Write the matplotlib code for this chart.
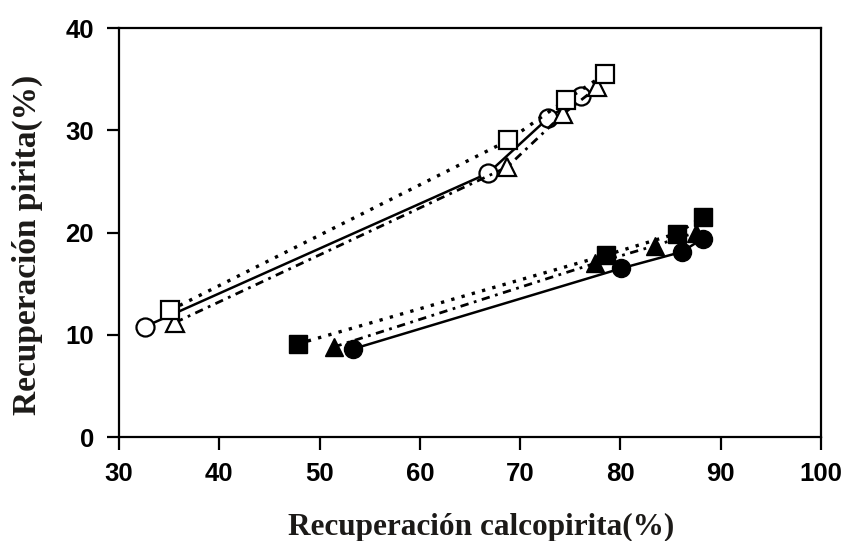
import numpy as np
import matplotlib.pyplot as plt

# Recuperación calcopirita (x) vs pirita (y)
# open symbols
x_circ_open = [32.6, 66.8, 72.8, 76.1]
y_circ_open = [10.8, 25.8, 31.2, 33.4]
x_sq_open = [35.1, 68.8, 74.6, 78.5]
y_sq_open = [12.4, 29.0, 33.0, 35.5]
x_tri_open = [35.6, 68.7, 74.3, 77.7]
y_tri_open = [11.2, 26.4, 31.6, 34.2]

# filled symbols
x_sq_fill = [47.8, 78.6, 85.6, 88.2]
y_sq_fill = [9.1, 17.8, 19.9, 21.5]
x_tri_fill = [51.4, 77.5, 83.4, 87.5]
y_tri_fill = [8.8, 17.0, 18.7, 20.0]
x_circ_fill = [53.3, 80.1, 86.1, 88.2]
y_circ_fill = [8.6, 16.5, 18.1, 19.4]

fig = plt.figure(figsize=(8.47, 5.41), dpi=100)
ax = fig.add_axes([0.1405, 0.1922, 0.8288, 0.756])

ms = 13
mew = 1.6
dot = (0, (1, 2.2))
dashdot = (0, (3, 2, 1, 2))

# open series
ax.plot(x_circ_open, y_circ_open, color="black", ls="-", lw=1.8,
        marker="o", ms=ms, mfc="white", mec="black", mew=mew, zorder=3)
ax.plot(x_tri_open, y_tri_open, color="black", ls=dashdot, lw=2.0,
        marker="^", ms=ms, mfc="white", mec="black", mew=mew, zorder=3)
ax.plot(x_sq_open, y_sq_open, color="black", ls=dot, lw=2.4,
        marker="s", ms=ms, mfc="white", mec="black", mew=mew, zorder=3)

# filled series
ax.plot(x_sq_fill, y_sq_fill, color="black", ls=dot, lw=2.4,
        marker="s", ms=ms, mfc="black", mec="black", zorder=3)
ax.plot(x_tri_fill, y_tri_fill, color="black", ls=dashdot, lw=2.0,
        marker="^", ms=ms, mfc="black", mec="black", zorder=3)
ax.plot(x_circ_fill, y_circ_fill, color="black", ls="-", lw=1.8,
        marker="o", ms=ms, mfc="black", mec="black", zorder=3)

ax.set_xlim(30, 100)
ax.set_ylim(0, 40)
ax.set_xticks(np.arange(30, 101, 10))
ax.set_yticks(np.arange(0, 41, 10))

for s in ax.spines.values():
    s.set_linewidth(1.6)

ax.tick_params(direction="out", length=9, width=1.6, pad=9)
for lab in ax.get_xticklabels() + ax.get_yticklabels():
    lab.set_fontfamily("Liberation Sans")
    lab.set_fontweight("bold")
    lab.set_fontsize(18.5)

ax.set_xlabel("Recuperación calcopirita(%)", fontfamily="Liberation Serif",
              fontweight="bold", fontsize=22.5, color="#1c1a18")
ax.set_ylabel("Recuperación pirita(%)", fontfamily="Liberation Serif",
              fontweight="bold", fontsize=24, color="#1c1a18")
ax.xaxis.set_label_coords(0.516, -0.22)
ax.xaxis.label.set_va("center")
ax.yaxis.set_label_coords(-0.131, 0.469)
ax.yaxis.label.set_va("center")

fig.savefig("out.png", dpi=100)
